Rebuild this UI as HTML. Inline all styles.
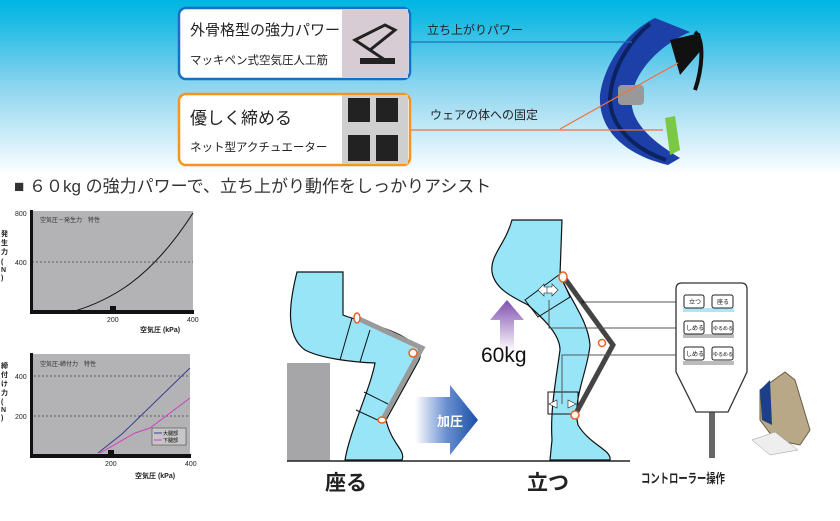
<!DOCTYPE html>
<html><head><meta charset="utf-8"><style>
html,body{margin:0;padding:0;background:#fff}
body{width:840px;height:516px;overflow:hidden;position:relative;font-family:"Liberation Sans","Noto Sans CJK JP",sans-serif}
svg text{font-family:"Liberation Sans","Noto Sans CJK JP",sans-serif}
</style></head><body>
<svg width="840" height="516" viewBox="0 0 840 516" xmlns="http://www.w3.org/2000/svg">
<defs>
<linearGradient id="bg" x1="0" y1="0" x2="0" y2="1">
<stop offset="0" stop-color="#00b6e2"/><stop offset="0.12" stop-color="#1cbbe4"/><stop offset="0.5" stop-color="#8fd5ef"/><stop offset="1" stop-color="#ffffff"/>
</linearGradient>
<linearGradient id="arr" x1="0" y1="0" x2="1" y2="0">
<stop offset="0" stop-color="#ffffff"/><stop offset="0.5" stop-color="#6a8fd0"/><stop offset="1" stop-color="#1a4fa8"/>
</linearGradient>
<linearGradient id="parr" x1="0" y1="1" x2="0" y2="0">
<stop offset="0" stop-color="#ffffff"/><stop offset="1" stop-color="#8050b0"/>
</linearGradient>
</defs>
<rect x="0" y="0" width="840" height="175" fill="url(#bg)"/>

<!-- device -->
<path d="M655,18 C630,30 605,60 600,95 C598,130 625,155 668,165 L680,158 C650,140 628,120 632,95 C636,70 660,45 690,32 Z" fill="#1c3fa8"/>
<path d="M650,24 C628,42 612,70 610,98 C610,125 632,148 666,160" fill="none" stroke="#0d2260" stroke-width="4"/>
<rect x="618" y="85" width="26" height="20" rx="4" fill="#999"/>
<path d="M670,40 L700,33 L703,48 L680,75 Z" fill="#111"/>
<path d="M665,118 L675,116 L680,150 L670,155 Z" fill="#7ac943"/>
<path d="M695,32 C705,40 702,70 695,90" fill="none" stroke="#111" stroke-width="4"/>

<!-- connector lines -->
<line x1="410" y1="42" x2="632" y2="42" stroke="#1a70b8" stroke-width="1.2"/>
<line x1="410" y1="130" x2="663" y2="130" stroke="#f07040" stroke-width="1.2"/>
<line x1="560" y1="129" x2="678" y2="63" stroke="#f07040" stroke-width="1.2"/>

<!-- boxes -->
<rect x="179" y="8" width="231" height="71" rx="7" fill="#fff" stroke="#1a6fc0" stroke-width="2.5"/>
<rect x="342" y="9" width="66" height="69" fill="#d8ccd4"/>
<path d="M355,40 L385,25 L395,30 L370,50 L385,60 Z" fill="none" stroke="#222" stroke-width="3"/>
<rect x="360" y="58" width="35" height="6" fill="#222"/>
<text x="190" y="35" font-size="15" fill="#222">外骨格型の強力パワー</text>
<text x="190" y="64" font-size="11.5" fill="#222">マッキペン式空気圧人工筋</text>

<rect x="179" y="94" width="231" height="71" rx="7" fill="#fff" stroke="#f7941d" stroke-width="2.5"/>
<rect x="342" y="95" width="66" height="69" fill="#cfcfcf"/>
<rect x="348" y="98" width="22" height="24" fill="#222"/><rect x="376" y="98" width="22" height="24" fill="#222"/>
<rect x="348" y="135" width="22" height="26" fill="#222"/><rect x="376" y="135" width="22" height="26" fill="#222"/>
<text x="190" y="124" font-size="17" fill="#222">優しく締める</text>
<text x="190" y="151" font-size="11.5" fill="#222">ネット型アクチュエーター</text>

<text x="427" y="34" font-size="12" fill="#222">立ち上がりパワー</text>
<text x="430" y="119" font-size="12" fill="#222">ウェアの体への固定</text>

<!-- heading -->
<text x="14" y="192" font-size="17" fill="#333">■ ６０kg の強力パワーで、立ち上がり動作をしっかりアシスト</text>

<!-- chart 1 -->
<rect x="32" y="211" width="161" height="101" fill="#b3b3b5"/>
<line x1="32" y1="262" x2="193" y2="262" stroke="#444" stroke-dasharray="2,2" stroke-width="0.8"/>
<path d="M75,311 C110,300 150,280 193,213" fill="none" stroke="#111" stroke-width="1"/>
<rect x="30" y="210" width="3" height="104" fill="#111"/><rect x="30" y="310" width="164" height="4" fill="#111"/>
<rect x="110" y="306" width="6" height="5" fill="#111"/>
<text x="40" y="222" font-size="6" fill="#333">空気圧－発生力　特性</text>
<text x="15" y="216" font-size="7" fill="#222">800</text><text x="15" y="265" font-size="7" fill="#222">400</text>
<text x="107" y="322" font-size="7" fill="#222">200</text><text x="187" y="322" font-size="7" fill="#222">400</text>
<text x="140" y="332" font-size="7" font-weight="bold" fill="#222">空気圧 (kPa)</text>
<g font-size="7" font-weight="bold" fill="#222">
<text x="1" y="236">発</text><text x="1" y="245">生</text><text x="1" y="254">力</text><text x="1" y="264">(</text><text x="1" y="272">N</text><text x="1" y="280">)</text>
</g>

<!-- chart 2 -->
<rect x="30" y="354" width="160" height="101" fill="#b3b3b5"/>
<line x1="30" y1="376" x2="190" y2="376" stroke="#444" stroke-dasharray="2,2" stroke-width="0.8"/>
<line x1="30" y1="416" x2="190" y2="416" stroke="#444" stroke-dasharray="2,2" stroke-width="0.8"/>
<path d="M98,453 L122,434 L190,368" fill="none" stroke="#3a3a90" stroke-width="1"/>
<path d="M100,453 L135,433 L150,428 L190,398" fill="none" stroke="#d040c0" stroke-width="1"/>
<rect x="152" y="428" width="34" height="17" fill="#c6c6c6" stroke="#333" stroke-width="0.5"/>
<line x1="154" y1="433" x2="162" y2="433" stroke="#3a3a90"/><line x1="154" y1="440" x2="162" y2="440" stroke="#d040c0"/>
<text x="163" y="435" font-size="5">大腿部</text><text x="163" y="442" font-size="5">下腿部</text>
<rect x="30" y="353" width="3" height="104" fill="#111"/><rect x="30" y="454" width="161" height="4" fill="#111"/>
<rect x="108" y="450" width="6" height="5" fill="#111"/>
<text x="40" y="366" font-size="6" fill="#333">空気圧-締付力　特性</text>
<text x="15" y="379" font-size="7" fill="#222">400</text><text x="15" y="419" font-size="7" fill="#222">200</text>
<text x="105" y="466" font-size="7" fill="#222">200</text><text x="185" y="466" font-size="7" fill="#222">400</text>
<text x="135" y="478" font-size="7" font-weight="bold" fill="#222">空気圧 (kPa)</text>
<g font-size="7" font-weight="bold" fill="#222">
<text x="1" y="368">締</text><text x="1" y="377">付</text><text x="1" y="386">け</text><text x="1" y="395">力</text><text x="1" y="404">(</text><text x="1" y="412">N</text><text x="1" y="420">)</text>
</g>

<!-- seat & floor -->
<rect x="287" y="363" width="43" height="98" fill="#a6a6a8"/>
<line x1="287" y1="461" x2="630" y2="461" stroke="#222" stroke-width="1.5"/>

<!-- sitting leg -->
<path d="M297,272 C290,300 284,335 305,350 C320,358 350,362 375,363 C370,390 350,430 345,460 L402,460 C406,450 392,445 386,420 L418,362 C425,350 415,343 400,335 C380,325 355,320 343,315 L343,272 Z" fill="#99e5f8" stroke="#111" stroke-width="1.2"/>
<line x1="352" y1="318" x2="340" y2="360" stroke="#111"/><line x1="370" y1="330" x2="360" y2="362" stroke="#111"/>
<line x1="364" y1="392" x2="388" y2="404" stroke="#111"/><line x1="356" y1="410" x2="382" y2="422" stroke="#111"/>
<path d="M357,318 L422,348 L383,419" fill="none" stroke="#9a9a9a" stroke-width="5"/>
<ellipse cx="357" cy="318" rx="3" ry="5" fill="#fff" stroke="#f06020" stroke-width="1.5"/>
<circle cx="413" cy="353" r="4" fill="#fff" stroke="#f06020" stroke-width="1.5"/>
<ellipse cx="382" cy="420" rx="4" ry="3" fill="#fff" stroke="#f06020" stroke-width="1.5"/>

<!-- 加圧 arrow -->
<path d="M415,397 L450,397 L450,385 L478,420 L450,455 L450,443 L415,443 Z" fill="url(#arr)"/>
<text x="437" y="426" font-size="13" font-weight="bold" fill="#fff">加圧</text>

<!-- purple arrow -->
<path d="M500,352 L500,320 L490,320 L507,300 L524,320 L514,320 L514,352 Z" fill="url(#parr)"/>
<text x="481" y="362" font-size="21" fill="#111">60kg</text>

<!-- standing leg -->
<path d="M512,220 C505,245 490,255 492,272 C495,290 515,298 528,305 C545,320 560,335 560,350 C556,380 550,410 552,440 L550,460 L610,460 C612,450 590,445 578,425 C572,400 588,370 590,345 C588,320 570,300 560,275 L562,220 Z" fill="#99e5f8" stroke="#111" stroke-width="1.2"/>
<path d="M525,300 L560,274 L570,297 L538,317 Z" fill="none" stroke="#111" stroke-width="1"/>
<rect x="548" y="392" width="30" height="22" fill="none" stroke="#111" stroke-width="1"/>
<path d="M563,276 L613,345 L575,415" fill="none" stroke="#444" stroke-width="5"/>
<ellipse cx="563" cy="277" rx="4" ry="5" fill="#fff" stroke="#f06020" stroke-width="1.5"/>
<circle cx="602" cy="343" r="3.5" fill="#fff" stroke="#f06020" stroke-width="1.5"/>
<ellipse cx="575" cy="415" rx="4" ry="4" fill="#fff" stroke="#f06020" stroke-width="1.5"/>
<path d="M538,290 l6,-6 v3 h5 v6 h-5 v3 z" fill="#fff" stroke="#222" stroke-width="0.6"/>
<path d="M558,290 l-6,-6 v3 h-5 v6 h5 v3 z" fill="#fff" stroke="#222" stroke-width="0.6"/>
<path d="M549,404 l8,-4 v8 z" fill="#fff" stroke="#222" stroke-width="0.6"/>
<path d="M576,404 l-8,-4 v8 z" fill="#fff" stroke="#222" stroke-width="0.6"/>

<!-- connectors to controller -->
<polyline points="583,302 684,302" fill="none" stroke="#555"/>
<polyline points="549,300 549,328 684,328" fill="none" stroke="#555"/>
<polyline points="562,404 562,355 684,355" fill="none" stroke="#555"/>
<circle cx="583" cy="302" r="1.5" fill="#222"/>

<!-- controller -->
<rect x="709" y="405" width="6" height="53" fill="#666"/>
<path d="M682,283 L741,283 Q747,283 747,289 L747,372 L728,412 L696,412 L676,372 L676,289 Q676,283 682,283 Z" fill="#fff" stroke="#333" stroke-width="1.3"/>
<rect x="683" y="308" width="51" height="4" fill="#aee6f5"/>
<rect x="683" y="334" width="51" height="4" fill="#bbb"/>
<rect x="683" y="361" width="51" height="4" fill="#bbb"/>
<g font-size="6" fill="#111" stroke="none">
<rect x="684" y="295" width="20" height="13" rx="2" fill="#fff" stroke="#222"/><text x="689" y="304">立つ</text>
<rect x="712" y="295" width="21" height="13" rx="2" fill="#fff" stroke="#222"/><text x="717" y="304">座る</text>
<rect x="684" y="321" width="20" height="13" rx="2" fill="#fff" stroke="#222"/><text x="686" y="330">しめる</text>
<rect x="712" y="321" width="21" height="13" rx="2" fill="#fff" stroke="#222"/><text x="713" y="330" font-size="5">ゆるめる</text>
<rect x="684" y="347" width="20" height="13" rx="2" fill="#fff" stroke="#222"/><text x="686" y="356">しめる</text>
<rect x="712" y="347" width="21" height="13" rx="2" fill="#fff" stroke="#222"/><text x="713" y="356" font-size="5">ゆるめる</text>
</g>

<!-- control box photo -->
<path d="M760,390 L785,372 L795,380 L810,430 L800,445 L775,440 L760,420 Z" fill="#b8a888" stroke="#6a5a40" stroke-width="1"/>
<path d="M760,390 L770,380 L772,425 L762,420 Z" fill="#1c3f8a"/>
<path d="M752,440 L775,432 L798,450 L770,455 Z" fill="#eee" stroke="#999" stroke-width="0.5"/>

<!-- labels -->
<text x="325" y="490" font-size="21" font-weight="bold" fill="#222">座る</text>
<text x="527" y="490" font-size="21" font-weight="bold" fill="#222">立つ</text>
<text x="641" y="483" font-size="13" font-weight="bold" fill="#222" textLength="84" lengthAdjust="spacingAndGlyphs">コントローラー操作</text>
</svg>
</body></html>
